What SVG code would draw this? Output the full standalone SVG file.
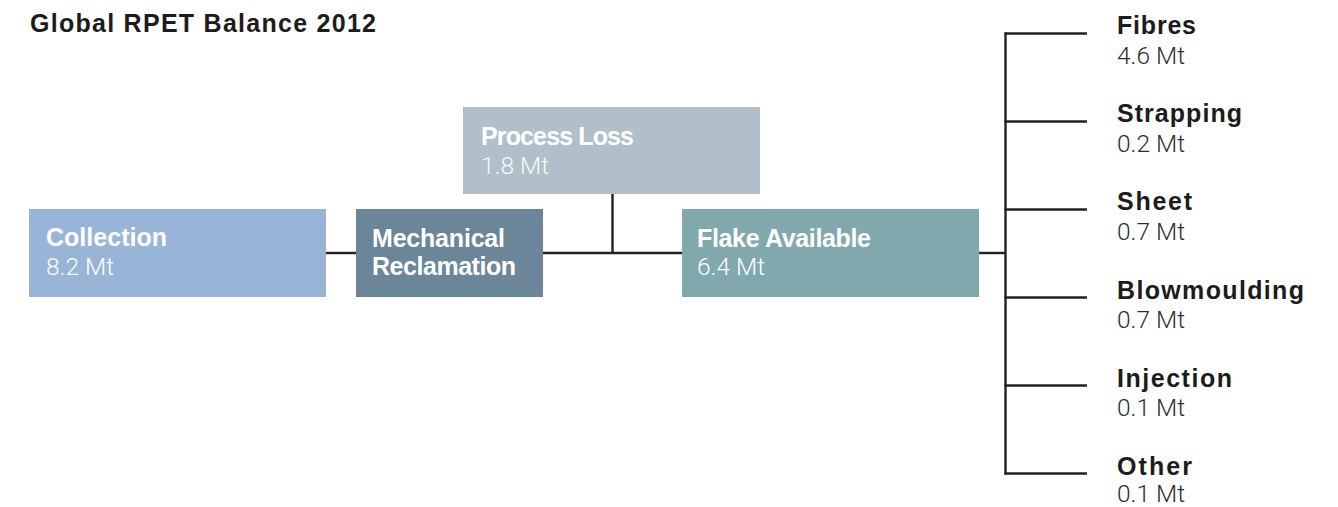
<svg xmlns="http://www.w3.org/2000/svg" width="1338" height="507" viewBox="0 0 1338 507">
  <style>
    .t { font-family: "Liberation Sans", Arial, sans-serif; font-size: 25px; }
    .b { font-weight: bold; }
    .v { font-family: Roboto, "Liberation Sans", Arial, sans-serif; font-weight: 300; font-size: 24.5px; }
    .w { fill: #ffffff; }
    .d { fill: #1c1c1c; }
    .g { fill: #2e2e2e; }
    .link { stroke: #222222; stroke-width: 2.4; fill: none; }
  </style>
  <rect width="1338" height="507" fill="#ffffff"/>

  <text class="t b d" x="30" y="32" textLength="346" lengthAdjust="spacing">Global RPET Balance 2012</text>

  <!-- connectors -->
  <g id="connectors">
    <line class="link" x1="326" y1="253" x2="356" y2="253"/>
    <line class="link" x1="543" y1="253" x2="682" y2="253"/>
    <line class="link" x1="612.5" y1="194" x2="612.5" y2="253"/>
    <line class="link" x1="978" y1="253" x2="1006" y2="253"/>
    <line class="link" x1="1005.5" y1="32.5" x2="1005.5" y2="474.5"/>
    <line class="link" x1="1004.5" y1="33.5" x2="1087" y2="33.5"/>
    <line class="link" x1="1004.5" y1="121.5" x2="1087" y2="121.5"/>
    <line class="link" x1="1004.5" y1="209.5" x2="1087" y2="209.5"/>
    <line class="link" x1="1004.5" y1="297.5" x2="1087" y2="297.5"/>
    <line class="link" x1="1004.5" y1="385.5" x2="1087" y2="385.5"/>
    <line class="link" x1="1004.5" y1="473.5" x2="1087" y2="473.5"/>
  </g>

  <g id="collection">
    <rect x="29" y="209" width="297" height="88" fill="#98b5d8"/>
    <text class="t b w" x="46" y="246" textLength="121" lengthAdjust="spacing">Collection</text>
    <text class="v w" x="46" y="275">8.2 Mt</text>
  </g>

  <g id="mechanical-reclamation">
    <rect x="356" y="209" width="187" height="88" fill="#6b8699"/>
    <text class="t b w" x="372" y="247" textLength="133" lengthAdjust="spacing">Mechanical</text>
    <text class="t b w" x="372" y="275" textLength="144" lengthAdjust="spacing">Reclamation</text>
  </g>

  <g id="process-loss">
    <rect x="463" y="107" width="297" height="87" fill="#b1bfca"/>
    <text class="t b w" x="481" y="145" textLength="153" lengthAdjust="spacing">Process Loss</text>
    <text class="v w" x="481" y="174" fill-opacity="0.9">1.8 Mt</text>
  </g>

  <g id="flake-available">
    <rect x="682" y="209" width="297" height="88" fill="#81a9ad"/>
    <text class="t b w" x="697" y="247" textLength="174" lengthAdjust="spacing">Flake Available</text>
    <text class="v w" x="697" y="275">6.4 Mt</text>
  </g>

  <g id="fibres">
    <text class="t b d" x="1117" y="34" textLength="79" lengthAdjust="spacing">Fibres</text>
    <text class="v g" x="1117" y="64">4.6 Mt</text>
  </g>
  <g id="strapping">
    <text class="t b d" x="1117" y="122" textLength="125" lengthAdjust="spacing">Strapping</text>
    <text class="v g" x="1117" y="152">0.2 Mt</text>
  </g>
  <g id="sheet">
    <text class="t b d" x="1117" y="210" textLength="75" lengthAdjust="spacing">Sheet</text>
    <text class="v g" x="1117" y="240">0.7 Mt</text>
  </g>
  <g id="blowmoulding">
    <text class="t b d" x="1117" y="299" textLength="187" lengthAdjust="spacing">Blowmoulding</text>
    <text class="v g" x="1117" y="328">0.7 Mt</text>
  </g>
  <g id="injection">
    <text class="t b d" x="1117" y="387" textLength="115" lengthAdjust="spacing">Injection</text>
    <text class="v g" x="1117" y="416">0.1 Mt</text>
  </g>
  <g id="other">
    <text class="t b d" x="1117" y="475" textLength="75" lengthAdjust="spacing">Other</text>
    <text class="v g" x="1117" y="502">0.1 Mt</text>
  </g>
</svg>
